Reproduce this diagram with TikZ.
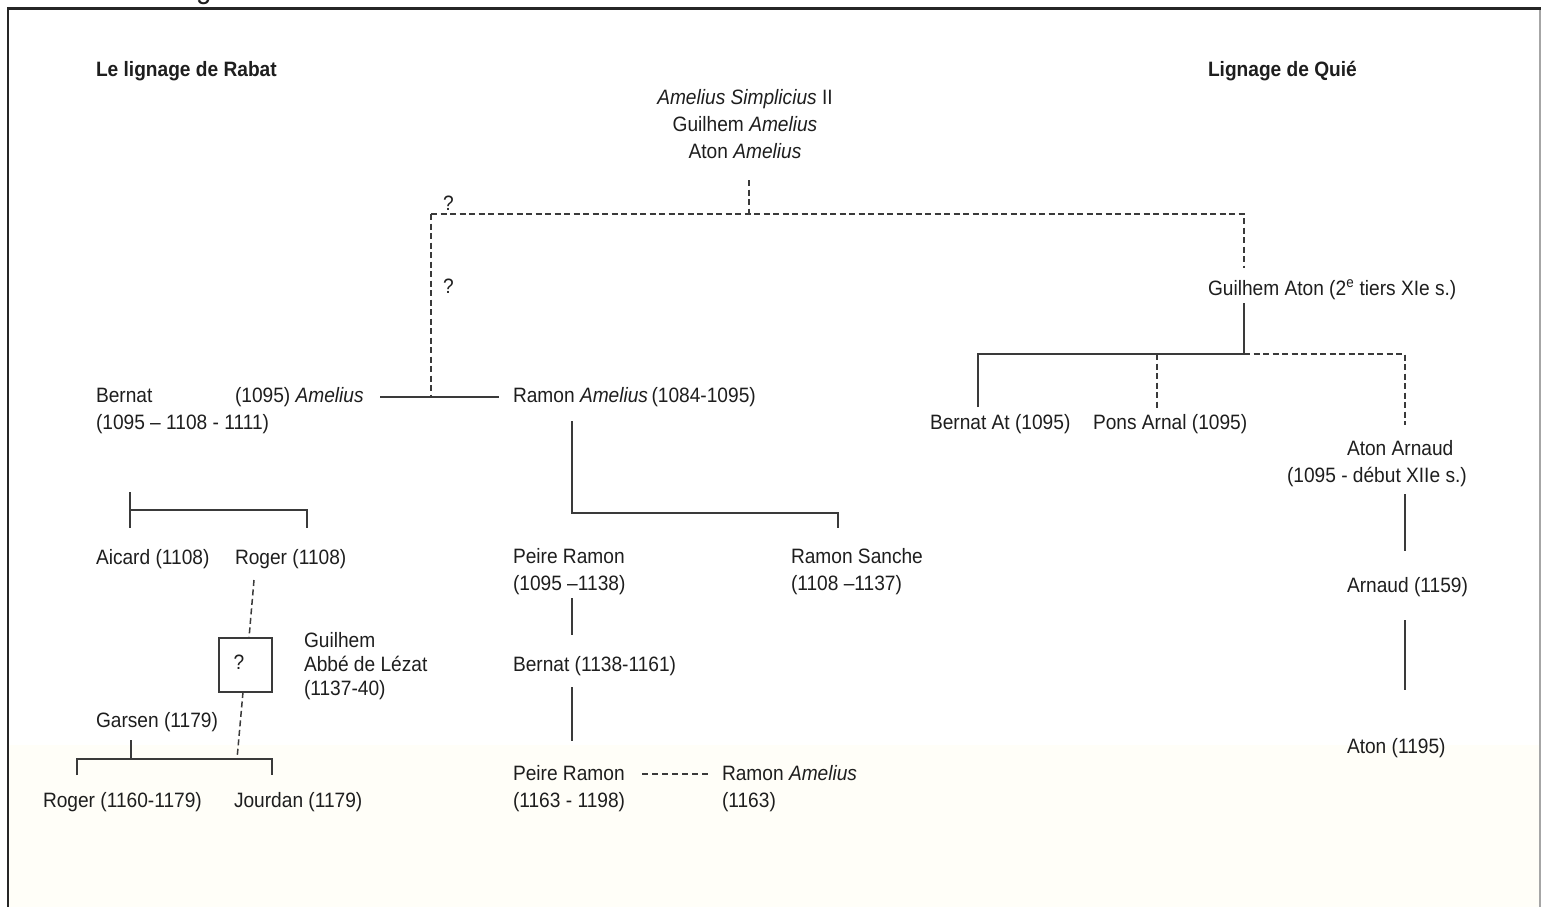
\documentclass[tikz,border=0pt]{standalone}
\usepackage{fontspec}
\setmainfont{Liberation Sans}[FakeStretch=0.92]
\definecolor{txt}{HTML}{1E1E1E}
\definecolor{lnc}{HTML}{3A3A3A}
\definecolor{cream}{HTML}{FFFEF8}
\begin{document}
\begin{tikzpicture}[x=1pt,y=-1pt,
  every node/.style={inner sep=0pt, outer sep=0pt, font=\fontsize{20.8}{27}\selectfont, text=txt},
  lbl/.style={anchor=base west},
  ctr/.style={anchor=base},
  ln/.style={draw=lnc, line width=1.5pt},
  dsh/.style={draw=lnc, line width=1.5pt, dash pattern=on 6pt off 3.5pt},
  qbox/.style={draw=lnc, line width=1.5pt, minimum width=53pt, minimum height=54pt}]
\useasboundingbox (0,0) rectangle (1541,907);
\fill[white] (0,0) rectangle (1541,907);
\fill[cream] (9,745) rectangle (1539,907);
% cut-off caption glyph
\begin{scope}
\clip (0,0) rectangle (1541,7);
\node[lbl, font=\fontsize{30}{30}\selectfont] (capg) at (196,-1) {g};
\end{scope}
% frame
\draw[line width=2pt, draw=black!85] (8,9) -- (8,907);
\draw[line width=2pt, draw=black!35] (1540,9) -- (1540,907);
\draw[line width=3pt, draw=black!85] (7,9) -- (1541,9);

% titles
\node[lbl, font=\bfseries\fontsize{20.8}{27}\selectfont] (titleL) at (96,77) {Le lignage de Rabat};
\node[lbl, font=\bfseries\fontsize{20.8}{27}\selectfont] (titleR) at (1208,77) {Lignage de Quié};

% top ancestors
\node[ctr] (top1) at (745,104) {\textit{Amelius Simplicius} II};
\node[ctr] (top2) at (745,131) {Guilhem \textit{Amelius}};
\node[ctr] (top3) at (745,158) {Aton \textit{Amelius}};

\node[lbl] (q1) at (443,210) {?};
\node[lbl] (q2) at (443,293) {?};

% Rabat side
\node[lbl] (bernatA) at (96,402) {Bernat};
\node[lbl] (bernatAm) at (235,402) {(1095) \textit{Amelius}};
\node[lbl] (bernatB) at (96,429) {(1095 – 1108 - 1111)};
\node[lbl] (ramonAm) at (513,402) {Ramon \textit{Amelius}\,(1084-1095)};

\node[lbl] (aicard) at (96,564) {Aicard (1108)};
\node[lbl] (roger1) at (235,564) {Roger (1108)};

\node[qbox] (box) at (245.5,665) {};
\node[anchor=center] (boxq) at (239,662) {?};
\node[lbl] (guilA) at (304,647) {Guilhem};
\node[lbl] (guilB) at (304,671) {Abbé de Lézat};
\node[lbl] (guilC) at (304,695) {(1137-40)};

\node[lbl] (garsen) at (96,727) {Garsen (1179)};
\node[lbl] (roger2) at (43,807) {Roger (1160-1179)};
\node[lbl] (jourdan) at (234,807) {Jourdan (1179)};

% middle
\node[lbl] (peire1a) at (513,563) {Peire Ramon};
\node[lbl] (peire1b) at (513,590) {(1095 –1138)};
\node[lbl] (sancheA) at (791,563) {Ramon Sanche};
\node[lbl] (sancheB) at (791,590) {(1108 –1137)};
\node[lbl] (bernat2) at (513,671) {Bernat (1138-1161)};
\node[lbl] (peire2a) at (513,780) {Peire Ramon};
\node[lbl] (peire2b) at (513,807) {(1163 - 1198)};
\node[lbl] (ramon2a) at (722,780) {Ramon \textit{Amelius}};
\node[lbl] (ramon2b) at (722,807) {(1163)};

% Quié side
\node[lbl] (gaton) at (1208,295) {Guilhem Aton (2\textsuperscript{e} tiers XIe s.)};
\node[lbl] (bernatAt) at (930,429) {Bernat At (1095)};
\node[lbl] (pons) at (1093,429) {Pons Arnal (1095)};
\node[lbl] (atonArA) at (1347,455) {Aton Arnaud};
\node[lbl] (atonArB) at (1287,482) {(1095 - début XIIe s.)};
\node[lbl] (arnaud) at (1347,592) {Arnaud (1159)};
\node[lbl] (aton) at (1347,753) {Aton (1195)};

% junction coordinates
\coordinate (topEnd) at (749,180);
\coordinate (jTop) at (749,214);
\coordinate (jL) at (431,214);
\coordinate (jR) at (1244,214);
\coordinate (gaTop) at (1244,268);
\coordinate (jMarr) at (431,397);
\coordinate (mL) at (380,397);
\coordinate (mR) at (499,397);
\coordinate (raDown) at (572,421);
\coordinate (raJ) at (572,513);
\coordinate (raR) at (838,513);
\coordinate (saTop) at (838,528);
\coordinate (peTop) at (572,528);
\coordinate (beTop) at (130,492);
\coordinate (beJ) at (130,510);
\coordinate (roJ) at (307,510);
\coordinate (aiTop) at (130,528);
\coordinate (roTop) at (307,528);
\coordinate (roBot) at (254,580);
\coordinate (gaDown) at (131,740);
\coordinate (gaJ) at (131,759);
\coordinate (chL) at (77,759);
\coordinate (chR) at (272,759);
\coordinate (chLb) at (77,775);
\coordinate (chRb) at (272,775);
\coordinate (jdEnd) at (237,759);
\coordinate (p1Bot) at (572,598);
\coordinate (b2Top) at (572,635);
\coordinate (b2Bot) at (572,687);
\coordinate (p2Top) at (572,741);
\coordinate (dL) at (642,774);
\coordinate (dR) at (710,774);
\coordinate (gaBot) at (1244,303);
\coordinate (qJ) at (1244,354);
\coordinate (qL) at (978,354);
\coordinate (qLb) at (978,407);
\coordinate (qM) at (1157,354);
\coordinate (qMb) at (1157,408);
\coordinate (qR) at (1405,354);
\coordinate (qRb) at (1405,425);
\coordinate (aaBot) at (1405,494);
\coordinate (arTop) at (1405,551);
\coordinate (arBot) at (1405,620);
\coordinate (atTop) at (1405,690);

% connectors
\draw[dsh] (topEnd) -- (jTop);
\draw[dsh] (jL) -- (jR) -- (gaTop);
\draw[dsh] (jL) -- (jMarr);
\draw[ln] (mL) -- (mR);
\draw[ln] (raDown) -- (raJ) -- (raR) -- (saTop);
\draw[ln] (beTop) -- (aiTop);
\draw[ln] (beJ) -- (roJ) -- (roTop);
\draw[dsh] (roBot) -- (box.north -| 249,0);
\draw[dsh] (box.south -| 243,0) -- (jdEnd);
\draw[ln] (gaDown) -- (gaJ);
\draw[ln] (chLb) -- (chL) -- (chR) -- (chRb);
\draw[ln] (p1Bot) -- (b2Top);
\draw[ln] (b2Bot) -- (p2Top);
\draw[draw=lnc, line width=1.5pt, dash pattern=on 6pt off 4pt] (dL) -- (dR);
\draw[ln] (gaBot) -- (qJ);
\draw[ln] (qLb) -- (qL) -- (qJ);
\draw[dsh] (qJ) -- (qR) -- (qRb);
\draw[dsh] (qM) -- (qMb);
\draw[ln] (aaBot) -- (arTop);
\draw[ln] (arBot) -- (atTop);
\end{tikzpicture}
\end{document}
